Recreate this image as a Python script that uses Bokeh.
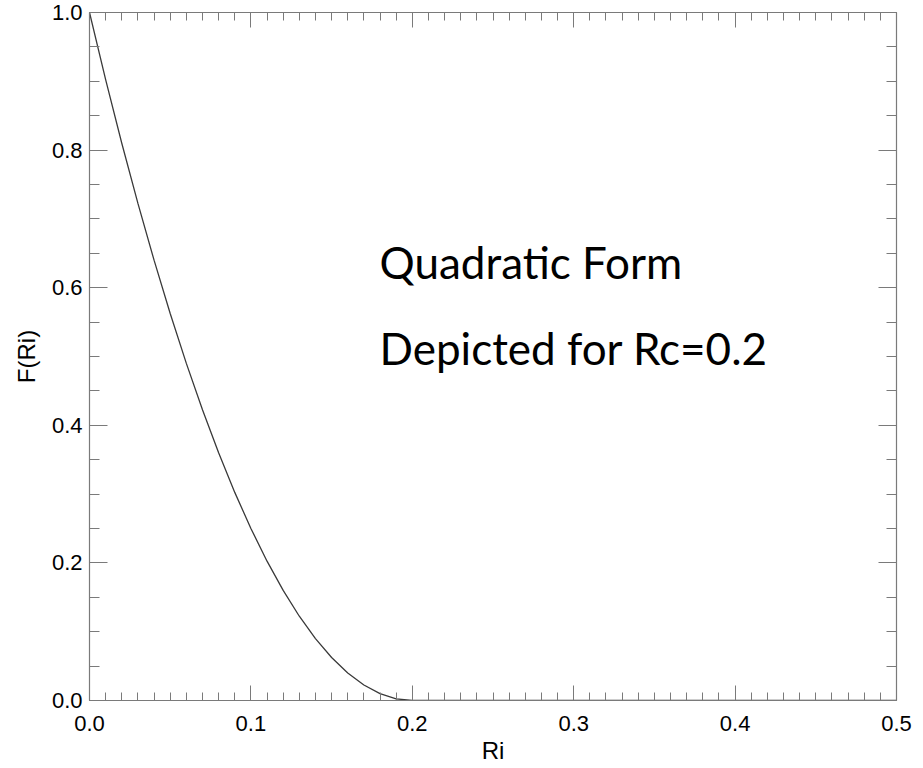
from bokeh.plotting import figure
from bokeh.models import Range1d, LinearAxis, FixedTicker, Label, PrintfTickFormatter
from bokeh.embed import file_html
from bokeh.resources import INLINE

# Curve: F(Ri) vs Ri
ri = [0.00, 0.01, 0.02, 0.03, 0.04, 0.05, 0.06, 0.07, 0.08, 0.09, 0.10,
      0.11, 0.12, 0.13, 0.14, 0.15, 0.16, 0.17, 0.18, 0.19, 0.20, 0.50]
f_ri = [1.00, 0.9025, 0.81, 0.7225, 0.64, 0.5625, 0.49, 0.4225, 0.36, 0.3025, 0.25,
        0.2025, 0.16, 0.1225, 0.09, 0.0625, 0.04, 0.0225, 0.01, 0.0025, 0.0, 0.0]

x_major = [0.0, 0.1, 0.2, 0.3, 0.4, 0.5]
x_minor = [i / 100 for i in range(0, 51)]
y_major = [0.0, 0.2, 0.4, 0.6, 0.8, 1.0]
y_minor = [i / 20 for i in range(0, 21)]

annot_lines = ["Quadratic Form", "Depicted for Rc=0.2"]
annot_x = 0.1797
annot_y = [0.638, 0.513]

AX = "#7a7a7a"
TICK_FONT = "Liberation Sans"

p = figure(width=923, height=768, output_backend="svg", toolbar_location=None,
           x_range=Range1d(0, 0.5), y_range=Range1d(0, 1.0),
           min_border_left=89, min_border_right=27, min_border_top=12, min_border_bottom=68)
p.grid.visible = False
p.outline_line_color = None
p.background_fill_color = "white"
p.border_fill_color = "white"

p.line(ri, f_ri, line_color="#3a3a3a", line_width=1.3)

def style(ax, labels, tin, tmin):
    ax.axis_line_color = AX
    ax.axis_line_width = 1.2
    ax.major_tick_line_color = AX
    ax.minor_tick_line_color = AX
    ax.major_tick_out = 0
    ax.minor_tick_out = 0
    ax.major_tick_in = tin
    ax.minor_tick_in = tmin
    ax.major_label_text_font = TICK_FONT
    ax.axis_label_text_font = TICK_FONT
    ax.axis_label_text_font_style = "normal"
    ax.axis_label_text_color = "black"
    ax.axis_label_text_font_size = "24px"
    if labels:
        ax.major_label_text_color = "black"
        ax.major_label_text_font_size = "22px"
        ax.formatter = PrintfTickFormatter(format="%.1f")
    else:
        ax.major_label_text_color = None
        ax.major_label_text_font_size = "1px"
        ax.major_label_standoff = 0

xb = p.xaxis[0]
xb.ticker = FixedTicker(ticks=x_major, minor_ticks=x_minor)
xb.axis_label = "Ri"
style(xb, True, 15, 8)
xb.major_label_standoff = 15
xb.axis_label_standoff = 3

yl = p.yaxis[0]
yl.ticker = FixedTicker(ticks=y_major, minor_ticks=y_minor)
yl.axis_label = "F(Ri)"
style(yl, True, 18, 10)
yl.major_label_standoff = 7
yl.axis_label_standoff = 9

xt = LinearAxis(ticker=FixedTicker(ticks=x_major, minor_ticks=x_minor))
style(xt, False, 15, 8)
p.add_layout(xt, "above")

yr = LinearAxis(ticker=FixedTicker(ticks=y_major, minor_ticks=y_minor))
style(yr, False, 18, 10)
p.add_layout(yr, "right")

for txt, yy in zip(annot_lines, annot_y):
    p.add_layout(Label(x=annot_x, y=yy, text=txt, text_font="Lato",
                       text_font_size="44px", text_color="black",
                       text_baseline="alphabetic", text_align="left"))

open("out.html", "w").write(file_html(p, INLINE))
